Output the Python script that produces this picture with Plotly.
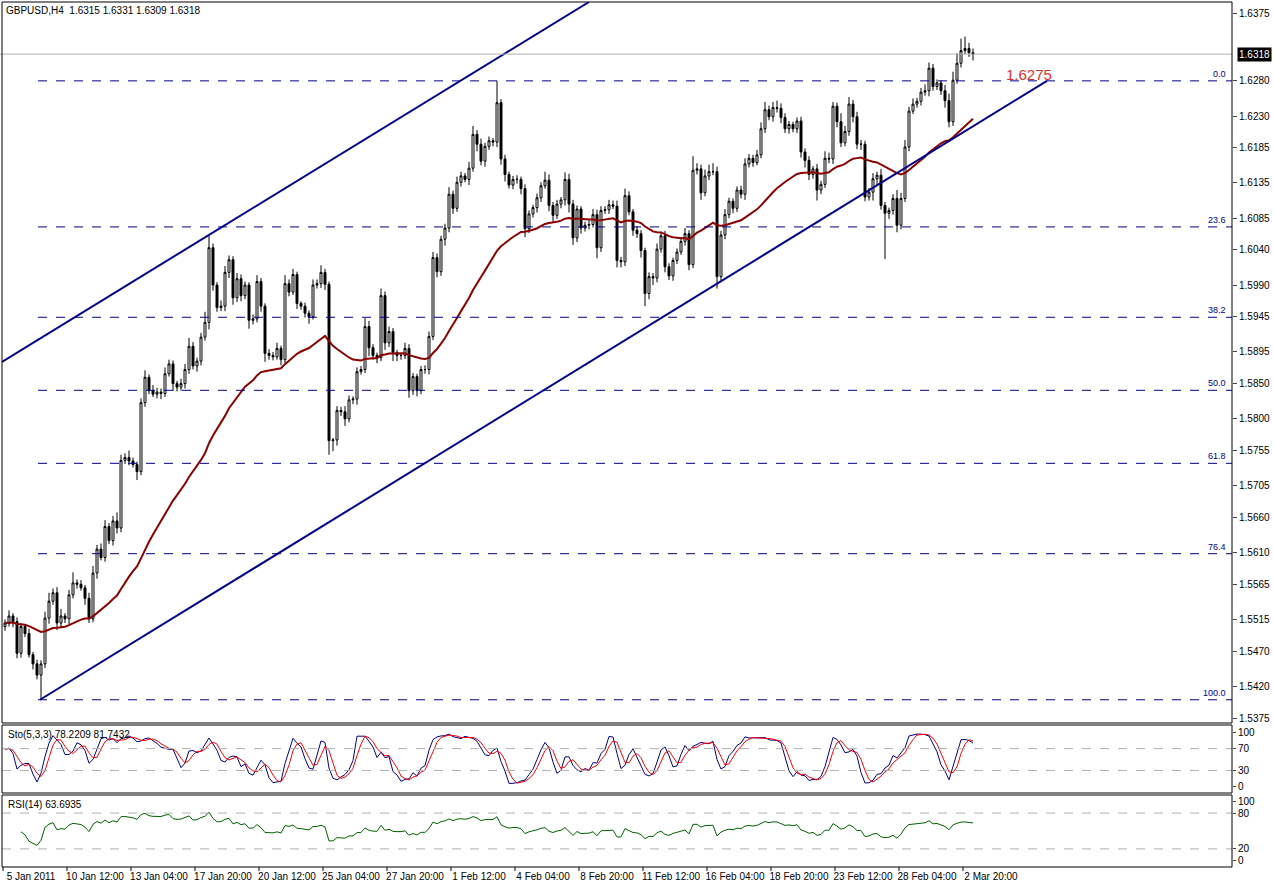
import numpy as np
import pandas as pd
import plotly.graph_objects as go

# ---------------- data ----------------
closes = [
1.5510,1.5520,1.5512,1.5467,1.5505,1.5495,1.5465,1.5452,1.5436,1.5452,
1.5517,1.5541,1.5553,1.5510,1.5520,1.5516,1.5550,1.5567,1.5565,1.5560,
1.5545,1.5516,1.5581,1.5615,1.5603,1.5647,1.5627,1.5655,1.5645,1.5741,
1.5745,1.5740,1.5735,1.5725,1.5823,1.5859,1.5840,1.5835,1.5838,1.5836,
1.5864,1.5878,1.5850,1.5845,1.5850,1.5870,1.5903,1.5875,1.5882,1.5916,
1.5937,1.6043,1.5990,1.5958,1.5960,1.6008,1.6026,1.5972,1.5999,1.5975,
1.5990,1.5940,1.5942,1.5995,1.5960,1.5893,1.5890,1.5888,1.5900,1.5884,
1.5992,1.5980,1.6005,1.5964,1.5960,1.5950,1.5945,1.5990,1.5992,1.6008,
1.5991,1.5769,1.5770,1.5812,1.5810,1.5800,1.5827,1.5828,1.5867,1.5870,
1.5931,1.5901,1.5890,1.5887,1.5975,1.5908,1.5924,1.5894,1.5890,1.5890,
1.5900,1.5840,1.5860,1.5840,1.5870,1.5870,1.5917,1.6029,1.6009,1.6055,
1.6071,1.6119,1.6099,1.6136,1.6145,1.6140,1.6156,1.6204,1.6190,1.6166,
1.6187,1.6195,1.6193,1.6249,1.6169,1.6147,1.6132,1.6140,1.6140,1.6127,
1.6070,1.6091,1.6100,1.6114,1.6131,1.6139,1.6103,1.6089,1.6105,1.6111,
1.6140,1.6105,1.6057,1.6098,1.6071,1.6075,1.6076,1.6090,1.6043,1.6096,
1.6097,1.6104,1.6102,1.6025,1.6023,1.6117,1.6094,1.6068,1.6063,1.6039,
1.5978,1.6002,1.6000,1.6041,1.6060,1.6016,1.6003,1.6025,1.6037,1.6052,
1.6063,1.6019,1.6153,1.6155,1.6121,1.6145,1.6151,1.6151,1.6002,1.6061,
1.6090,1.6109,1.6099,1.6125,1.6119,1.6162,1.6170,1.6164,1.6175,1.6212,
1.6239,1.6229,1.6242,1.6241,1.6228,1.6212,1.6218,1.6212,1.6223,1.6179,
1.6167,1.6147,1.6155,1.6125,1.6133,1.6170,1.6169,1.6244,1.6222,1.6192,
1.6208,1.6247,1.6229,1.6190,1.6190,1.6115,1.6122,1.6141,1.6146,1.6103,
1.6092,1.6096,1.6113,1.6075,1.6113,1.6186,1.6237,1.6247,1.6251,1.6264,
1.6266,1.6298,1.6272,1.6277,1.6266,1.6252,1.6222,1.6281,1.6305,1.6323,
1.6326,1.6320,1.6318]
first_open = 1.5505
# wick sizes in pips (upper / lower)
up_wick = [
 5,8,4,6,5,3,7,4,6,5, 9,12,6,8,10,4,7,15,5,6, 4,8,10,6,8,9,5,7,12,8,
 6,10,5,4,6,10,4,8,6,5, 9,6,5,4,7,8,12,6,5,6, 15,17,6,4,8,9,6,5,8,6,
 5,4,6,9,5,4,6,5,8,4, 12,6,8,4,3,5,4,8,6,10, 5,4,3,6,5,8,6,4,6,5,
 12,8,5,4,10,6,7,5,4,3, 8,6,5,4,5,6,7,8,6,5, 6,10,5,8,6,4,9,12,6,8,
 5,6,4,31,5,6,4,5,6,4, 6,5,4,6,5,12,8,5,6,4, 10,8,6,5,4,5,6,8,7,6,
 5,7,6,8,5,10,6,4,6,5, 4,6,5,8,6,7,5,4,5,6, 8,5,20,8,6,9,10,12,7,6,
 8,5,4,5,6,8,6,5,7,9, 11,6,8,10,7,6,5,4,5,6, 5,6,4,7,5,10,8,6,5,12,
 8,10,6,7,6,5,6,8,5,9, 5,4,6,12,8,10,6,8,5,6, 9,8,6,5,4,8,10,12,14,17,
 17,8,6]
dn_wick = [
 6,5,8,7,6,5,4,8,6,35, 6,8,5,10,7,6,8,5,6,4, 9,6,5,8,4,6,5,7,8,6,
 5,6,4,12,5,6,5,4,6,8, 5,4,10,6,5,7,6,5,8,6, 5,10,8,6,5,7,8,10,6,8,
 5,12,6,5,8,12,6,5,4,8, 5,6,4,8,5,6,10,4,5,6, 8,20,15,8,6,10,5,6,8,4,
 5,12,6,8,5,10,6,12,8,6, 5,10,6,8,5,6,7,5,8,6, 9,6,8,5,6,4,8,5,10,6,
 8,5,6,7,8,10,5,6,6,8, 12,6,5,7,6,4,8,9,5,6, 8,12,10,6,8,5,6,4,15,6,
 5,6,4,10,8,6,5,8,6,10, 18,8,10,6,5,8,6,7,5,4, 6,8,5,6,10,5,6,5,17,8,
 6,5,7,5,6,8,5,6,4,5, 6,5,7,6,8,6,7,5,6,8, 10,8,6,15,6,5,6,7,8,6,
 5,6,8,7,8,6,5,12,10,6, 65,8,6,10,6,5,6,4,5,6, 5,8,6,5,6,10,8,6,5,6,
 5,6,9]

date_labels = ["5 Jan 2011","10 Jan 12:00","13 Jan 04:00","17 Jan 20:00","20 Jan 12:00",
               "25 Jan 04:00","27 Jan 20:00","1 Feb 12:00","4 Feb 04:00","8 Feb 20:00",
               "11 Feb 12:00","16 Feb 04:00","18 Feb 20:00","23 Feb 12:00","28 Feb 04:00",
               "2 Mar 20:00"]
price_ticks = [1.6375,1.6280,1.6230,1.6185,1.6135,1.6085,1.6040,1.5990,1.5945,1.5895,
               1.5850,1.5800,1.5755,1.5705,1.5660,1.5610,1.5565,1.5515,1.5470,1.5420,1.5375]
fib_high, fib_low = 1.6280, 1.5401
fib_ratios = [0.0, 23.6, 38.2, 50.0, 61.8, 76.4, 100.0]
lower_chan_x, lower_chan_y = [8.75, 260.5], [1.5401, 1.6280]
upper_chan_x, upper_chan_y = [-0.75, 146.0], [1.5881, 1.6392]
last_price = 1.6318
target_label, target_bar, target_price = "1.6275", 256, 1.6289

# ---------------- derived ----------------
n = len(closes)
idx = np.arange(n)
c = np.array(closes)
o = np.concatenate([[first_open], c[:-1]])
h = np.maximum(o, c) + np.array(up_wick) / 10000
l = np.minimum(o, c) - np.array(dn_wick) / 10000
s = pd.Series(c)
ma = s.ewm(span=40, adjust=False).mean()
hh = pd.Series(h).rolling(5, min_periods=1).max()
ll = pd.Series(l).rolling(5, min_periods=1).min()
num = (s - ll).rolling(3, min_periods=1).sum()
den = (hh - ll).rolling(3, min_periods=1).sum()
stk = 100 * num / den
std = stk.rolling(3, min_periods=1).mean()
d = s.diff().fillna(0)
up = d.clip(lower=0).ewm(alpha=1/14, adjust=False).mean()
dn = (-d.clip(upper=0)).ewm(alpha=1/14, adjust=False).mean()
rsi = 100 - 100 / (1 + up / dn.replace(0, 1e-9))
rsi.iloc[:4] = np.nan

W, H = 1274, 885
def py(p): return 1 - p / H
FONT = "Liberation Sans"

fig = go.Figure()
fig.add_trace(go.Candlestick(x=idx, open=o, high=h, low=l, close=c,
    increasing=dict(line=dict(color="black", width=1), fillcolor="white"),
    decreasing=dict(line=dict(color="black", width=1), fillcolor="black"),
    whiskerwidth=0, showlegend=False, hoverinfo="skip"))
fig.add_trace(go.Scatter(x=idx, y=ma, mode="lines", line=dict(color="#8b0000", width=2), hoverinfo="skip"))
fig.add_trace(go.Scatter(x=lower_chan_x, y=lower_chan_y, mode="lines", line=dict(color="#00008b", width=2), hoverinfo="skip"))
fig.add_trace(go.Scatter(x=upper_chan_x, y=upper_chan_y, mode="lines", line=dict(color="#00008b", width=2), hoverinfo="skip"))
fig.add_trace(go.Scatter(x=idx, y=stk, yaxis="y2", mode="lines", line=dict(color="#00008b", width=1), hoverinfo="skip"))
fig.add_trace(go.Scatter(x=idx, y=std, yaxis="y2", mode="lines", line=dict(color="red", width=1), hoverinfo="skip"))
fig.add_trace(go.Scatter(x=idx, y=rsi, yaxis="y3", mode="lines", line=dict(color="#006400", width=1), hoverinfo="skip"))

xr = [-0.75, 306.75]
shapes, annos = [], []
for r in fib_ratios:
    lvl = fib_high - r / 100 * (fib_high - fib_low)
    shapes.append(dict(type="line", xref="x", yref="y", x0=8.25, x1=xr[1], y0=lvl, y1=lvl,
                       line=dict(color="#00008b", width=1, dash="dash")))
    annos.append(dict(xref="x", yref="y", x=xr[1] - 1, y=lvl, text=f"{r:.1f}", showarrow=False,
                      xanchor="right", yanchor="bottom", font=dict(family=FONT, size=9, color="#00008b")))
shapes.append(dict(type="line", xref="paper", yref="y", x0=0, x1=1232/W, y0=last_price, y1=last_price,
                   line=dict(color="#b0b0b0", width=1)))
for yv in (70, 30):
    shapes.append(dict(type="line", xref="x", yref="y2", x0=xr[0], x1=xr[1], y0=yv, y1=yv,
                       line=dict(color="#b0b0b0", width=1, dash="dash")))
for yv in (80, 20):
    shapes.append(dict(type="line", xref="x", yref="y3", x0=xr[0], x1=xr[1], y0=yv, y1=yv,
                       line=dict(color="#b0b0b0", width=1, dash="dash")))
for (t, b) in [(2, 723), (725, 793), (795, 867)]:
    shapes.append(dict(type="rect", xref="paper", yref="paper", x0=2/W, x1=1232/W, y0=py(b), y1=py(t),
                       line=dict(color="black", width=1), layer="above"))
tick_pos = [-0.5 + 16 * k for k in range(len(date_labels))]
for tp in tick_pos:
    shapes.append(dict(type="line", xref="x", yref="paper", x0=tp, x1=tp, y0=py(867), y1=py(871),
                       line=dict(color="black", width=1)))

annos += [
    dict(xref="paper", yref="paper", x=4/W, y=py(3), text="GBPUSD,H4  1.6315 1.6331 1.6309 1.6318",
         showarrow=False, xanchor="left", yanchor="top", font=dict(family=FONT, size=10, color="black")),
    dict(xref="paper", yref="paper", x=6/W, y=py(727), text="Sto(5,3,3) 78.2209 81.7432",
         showarrow=False, xanchor="left", yanchor="top", font=dict(family=FONT, size=10, color="black")),
    dict(xref="paper", yref="paper", x=6/W, y=py(797), text="RSI(14) 63.6935",
         showarrow=False, xanchor="left", yanchor="top", font=dict(family=FONT, size=10, color="black")),
    dict(xref="x", yref="y", x=target_bar, y=target_price, text=target_label, showarrow=False,
         font=dict(family=FONT, size=15, color="#e03030")),
    dict(xref="paper", yref="y", x=1237/W, y=last_price, text=f"{last_price:.4f}", showarrow=False,
         xanchor="left", bgcolor="black", font=dict(family=FONT, size=10, color="white"), borderpad=1),
]

tickfont = dict(family=FONT, size=10, color="black")
fig.update_layout(
    width=W, height=H, margin=dict(l=0, r=0, t=0, b=0, autoexpand=False),
    paper_bgcolor="white", plot_bgcolor="white", showlegend=False,
    shapes=shapes, annotations=annos,
    xaxis=dict(domain=[2/W, 1232/W], range=xr, anchor="y3", rangeslider=dict(visible=False),
               showgrid=False, zeroline=False, tickmode="array", automargin=False,
               tickvals=[tp + 7 for tp in tick_pos], ticktext=date_labels, ticks="",
               tickfont=tickfont, ticklabelstandoff=2),
    yaxis=dict(domain=[py(723), py(2)], range=[1.5368, 1.6392], side="right", showgrid=False,
               zeroline=False, tickmode="array", tickvals=price_ticks, automargin=False,
               ticktext=[f"{v:.4f}" for v in price_ticks], ticks="outside", ticklen=4,
               tickfont=tickfont, anchor="x"),
    yaxis2=dict(domain=[py(793), py(725)], range=[-11.3, 113.2], side="right", showgrid=False,
                zeroline=False, tickmode="array", tickvals=[100, 70, 30, 0], ticks="outside",
                ticklen=3, tickfont=tickfont, anchor="x", automargin=False),
    yaxis3=dict(domain=[py(867), py(795)], range=[-10.3, 110.3], side="right", showgrid=False,
                zeroline=False, tickmode="array", tickvals=[100, 80, 20, 0], ticks="outside",
                ticklen=3, tickfont=tickfont, anchor="x", automargin=False),
)
fig.write_html("out.html", config={"displayModeBar": False},
               post_script="document.body.style.margin='0';document.body.style.overflow='hidden';")
